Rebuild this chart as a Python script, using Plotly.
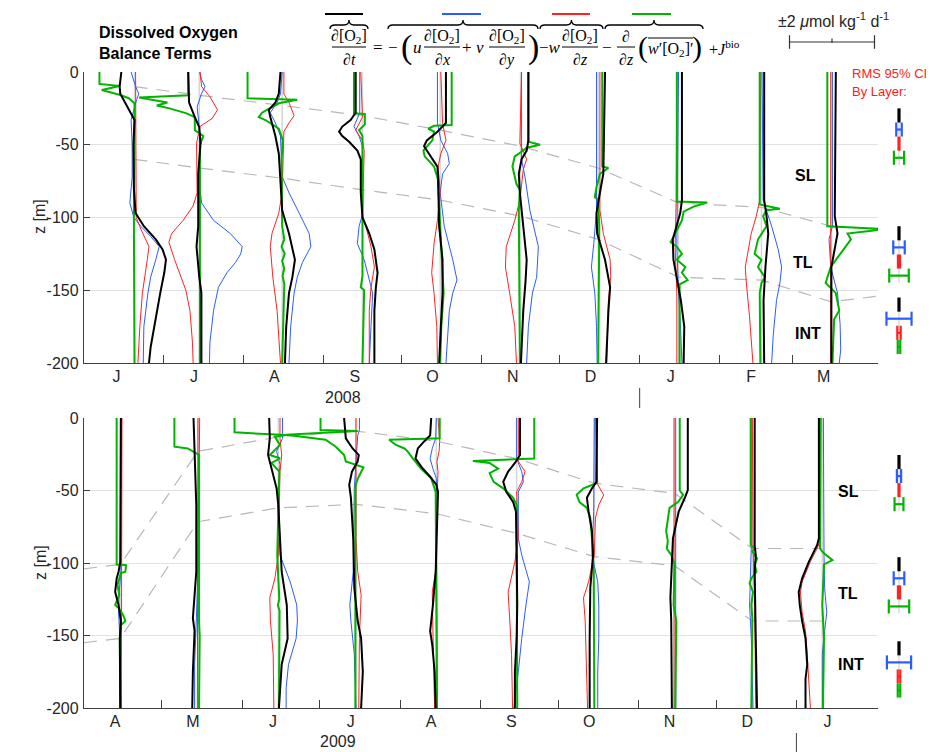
import datetime as dt
import plotly.graph_objects as go

# ------------------------------------------------------------------ data
START_2008 = "2008-06-01"
START_2009 = "2009-04-01"
YEAR_BREAK_2008 = "2009-01-01"
YEAR_BREAK_2009 = "2010-01-01"

DATES_2008 = ["2008-06-20", "2008-07-15", "2008-08-16", "2008-09-16", "2008-10-16",
              "2008-11-16", "2008-12-16", "2009-01-16", "2009-02-17", "2009-03-16"]
DATES_2009 = ["2009-04-15", "2009-05-15", "2009-06-15", "2009-07-15", "2009-08-15",
              "2009-09-15", "2009-10-15", "2009-11-15", "2009-12-15", "2010-01-11"]

MONTHS_2008 = ["2008-06-01", "2008-07-01", "2008-08-01", "2008-09-01", "2008-10-01",
               "2008-11-01", "2008-12-01", "2009-01-01", "2009-02-01", "2009-03-01"]
LABELS_2008 = ["J", "J", "A", "S", "O", "N", "D", "J", "F", "M"]
MONTHS_2009 = ["2009-04-01", "2009-05-01", "2009-06-01", "2009-07-01", "2009-08-01",
               "2009-09-01", "2009-10-01", "2009-11-01", "2009-12-01", "2010-01-01"]
LABELS_2009 = ["A", "M", "J", "J", "A", "S", "O", "N", "D", "J"]

# profiles: (depth m, rate umol/kg/d); k=d[O2]/dt, b=horiz. adv., r=vert. adv., g=vert. mixing
JUN08 = dict(
    k=[(0, -0.62), (10, -0.70), (15, -0.67), (26, -0.27), (33, 0.0), (50, -0.05), (80, -0.03), (97, 0.05), (106, 0.44), (115, 1.0), (122, 1.32), (129, 1.48), (138, 1.40), (152, 1.21), (170, 1.0), (189, 0.76), (200, 0.68)],
    b=[(0, -0.16), (10, 0.05), (15, 0.2), (19, 0.1), (33, -0.16), (50, -0.11), (72, -0.11), (90, -0.22), (100, -0.03), (106, 0.29), (113, 0.76), (120, 1.16), (129, 1.0), (141, 0.76), (152, 0.63), (175, 0.44), (200, 0.41)],
    r=[(0, 0.05), (50, 0.08), (100, 0.08), (108, 0.3), (115, 0.52), (120, 0.68), (129, 0.6), (152, 0.37), (175, 0.25), (200, 0.16)],
    g=[(0, -1.65), (8.2, -1.65), (9.6, -0.7), (12.4, -1.54), (15.8, -0.67), (18, -0.27), (21.5, 0.0), (100, -0.03), (200, 0.0)],
)
JUL08 = dict(
    k=[(0, -0.52), (21, -0.48), (31, -0.21), (38, 0.0), (49, 0.06), (70, -0.05), (106, -0.05), (120, -0.13), (141, 0.0), (152, 0.1), (200, 0.1)],
    b=[(0, 0.03), (5, 0.1), (10, 0.27), (15, 0.1), (24, -0.1), (38, 0.0), (80, 0.03), (90, 0.11), (102, 0.67), (111, 1.46), (120, 2.02), (125, 1.95), (131, 1.7), (138, 1.3), (148, 0.9), (164, 0.67), (186, 0.5), (200, 0.48)],
    r=[(0, 0.03), (10, 0.11), (17, 0.5), (26, 0.86), (32, 0.6), (37.5, 0.03), (49, -0.13), (83, -0.1), (92, -0.29), (102, -0.76), (111, -1.3), (117, -1.43), (129, -1.16), (138, -0.92), (150, -0.63), (164, -0.44), (186, -0.32), (200, -0.29)],
    g=[(0, -0.52), (16, -0.52), (17.5, -2.83), (19.5, -1.95), (21, -1.5), (23, -2.0), (25, -1.4), (28.4, -0.6), (31, -0.21), (40, -0.21), (44, 0.19), (50, 0.03), (200, 0.03)],
)
AUG08 = dict(
    k=[(0, -0.08), (15, -0.16), (21, -0.32), (26, -0.63), (31, -0.56), (35, -0.48), (44, -0.32), (56, -0.16), (72, -0.08), (95, 0.0), (111, 0.32), (129, 0.6), (141, 0.48), (152, 0.32), (175, 0.19), (200, 0.13)],
    b=[(0, 0.0), (15, -0.08), (21, -0.24), (28, -0.56), (35, -0.32), (44, -0.08), (72, 0.0), (83, 0.32), (97, 0.8), (111, 1.27), (120, 1.35), (131, 0.95), (141, 0.71), (152, 0.56), (175, 0.4), (200, 0.32)],
    r=[(0, 0.08), (15, 0.08), (21, 0.32), (30, 0.56), (35, 0.32), (41, 0.08), (83, 0.0), (97, -0.16), (111, -0.48), (120, -0.56), (141, -0.44), (164, -0.24), (200, -0.08)],
    g=[(0, -1.63), (18, -1.63), (19, 0.71), (21.5, -0.16), (28, -0.95), (31, -1.1), (33, -0.79), (39, -0.16), (47, 0.03), (60, -0.03), (106, 0.0), (115, 0.1), (120, -0.03), (125, 0.12), (130, 0.0), (135, 0.1), (140, 0.02), (146, 0.1), (200, 0.0)],
)
SEP08 = dict(
    k=[(0, -0.32), (28, -0.32), (33, -0.56), (37.5, -0.95), (41, -1.1), (44, -0.95), (48, -0.63), (54, -0.24), (60, -0.08), (83, -0.08), (100, 0.0), (111, 0.32), (122, 0.56), (138, 0.71), (148, 0.63), (164, 0.56), (200, 0.56)],
    b=[(0, -0.13), (28, -0.13), (37.5, -0.4), (44, -0.16), (51, 0.0), (98, 0.0), (106, -0.16), (118, -0.24), (129, 0.08), (143, 0.32), (152, 0.48), (175, 0.4), (200, 0.32)],
    r=[(0, -0.08), (31, 0.0), (40, -0.32), (47, 0.0), (54, 0.08), (100, 0.0), (106, 0.16), (120, 0.4), (134, 0.56), (148, 0.4), (164, 0.32), (200, 0.32)],
    g=[(0, -0.4), (28.4, -0.4), (28.9, 0.11), (36, 0.11), (40, -0.16), (44, 0.0), (140, 0.0), (148, -0.08), (150, 0.08), (200, 0.0)],
)
OCT08 = dict(
    k=[(0, 0.27), (35, 0.27), (41, -0.13), (47, -0.63), (51, -0.76), (58, -0.44), (65, -0.13), (72, -0.1), (106, -0.05), (129, 0.11), (152, 0.11), (175, 0.03), (200, -0.05)],
    b=[(0, -0.13), (35, -0.13), (47, 0.03), (56, 0.35), (63, 0.43), (70, 0.11), (83, 0.0), (106, 0.19), (129, 0.59), (143, 0.79), (152, 0.59), (164, 0.43), (200, 0.27)],
    r=[(0, 0.03), (35, 0.11), (47, 0.27), (56, 0.03), (65, -0.1), (83, 0.0), (102, -0.13), (118, -0.29), (138, -0.4), (152, -0.29), (175, -0.16), (200, -0.13)],
    g=[(0, 0.54), (36.4, 0.54), (37, -0.29), (39, -0.56), (41, -0.29), (47, -0.37), (54, -0.79), (58, -0.73), (65, -0.29), (74, -0.1), (106, 0.0), (140, 0.1), (152, 0.16), (175, 0.05), (200, 0.0)],
)
NOV08 = dict(
    k=[(0, 0.37), (47, 0.37), (54, 0.29), (60, 0.05), (70, -0.08), (83, -0.03), (106, 0.13), (129, 0.29), (143, 0.24), (164, 0.13), (200, 0.02)],
    b=[(0, 0.05), (60, 0.05), (72, 0.21), (95, 0.44), (120, 0.84), (141, 0.76), (152, 0.56), (175, 0.37), (200, 0.29)],
    r=[(0, 0.05), (49, -0.03), (60, 0.29), (67, 0.13), (88, -0.03), (102, -0.27), (120, -0.67), (134, -0.71), (152, -0.51), (175, -0.27), (200, -0.19)],
    g=[(0, 0.37), (48, 0.37), (50, 0.92), (52, 0.29), (54, 0.13), (58, -0.27), (65, -0.38), (77, -0.19), (81, -0.03), (95, -0.08), (200, -0.03)],
)
DEC08 = dict(
    k=[(0, 0.32), (70, 0.24), (83, 0.08), (97, -0.08), (111, -0.05), (129, 0.32), (148, 0.56), (164, 0.48), (200, 0.37)],
    b=[(0, -0.08), (95, -0.08), (118, -0.21), (134, -0.32), (152, -0.16), (175, -0.08), (200, -0.05)],
    r=[(0, 0.08), (95, 0.08), (111, 0.24), (129, 0.56), (141, 0.59), (157, 0.48), (200, 0.4)],
    g=[(0, 0.19), (65, 0.19), (66, 0.48), (70, 0.08), (79, -0.08), (86, -0.16), (88, 0.0), (106, 0.05), (200, 0.0)],
)
JAN09 = dict(
    k=[(0, 0.16), (88, 0.16), (97, 0.08), (106, -0.08), (115, -0.27), (129, -0.24), (141, -0.08), (157, 0.11), (175, 0.27), (200, 0.24)],
    b=[(0, 0.0), (88, -0.08), (120, -0.08), (152, 0.0), (170, 0.08), (200, 0.16)],
    r=[(0, -0.08), (88, -0.11), (120, -0.16), (152, -0.08), (200, -0.08)],
    g=[(0, -0.08), (89, -0.08), (89.7, 1.35), (92.5, 0.71), (96, 0.24), (102, 0.16), (111, -0.16), (117, -0.37), (120, -0.08), (125, 0.16), (129, -0.08), (134, 0.32), (138, 0.16), (143, 0.43), (146, 0.05), (200, 0.05)],
)
FEB09 = dict(
    k=[(0, 0.13), (88, 0.13), (99, 0.24), (111, 0.32), (134, 0.19), (157, 0.1), (200, 0.13)],
    b=[(0, 0.03), (88, 0.08), (106, 0.48), (122, 0.79), (134, 0.95), (145, 0.87), (157, 0.71), (180, 0.56), (200, 0.48)],
    r=[(0, -0.03), (88, -0.08), (99, -0.24), (111, -0.48), (134, -0.76), (145, -0.71), (168, -0.56), (200, -0.4)],
    g=[(0, -0.08), (91, -0.08), (94, 0.87), (95, 0.24), (99, 0.08), (106, 0.24), (115, -0.16), (125, -0.32), (129, 0.0), (134, -0.16), (141, 0.16), (145, 0.0), (152, -0.08), (200, -0.05)],
)
MAR09 = dict(
    k=[(0, 0.21), (99, 0.16), (111, 0.29), (125, 0.13), (134, 0.0), (200, 0.0)],
    b=[(0, 0.05), (106, 0.05), (115, -0.11), (134, -0.03), (152, 0.29), (173, 0.41), (191, 0.44), (200, 0.37)],
    r=[(0, -0.03), (200, -0.03)],
    g=[(0, -0.19), (106, -0.19), (108, 2.5), (111, 0.76), (115, 0.92), (125, 0.44), (134, -0.03), (145, -0.27), (152, 0.21), (164, 0.37), (170, 0.13), (200, 0.05)],
)

APR09 = dict(
    k=[(0, 0.03), (83, 0.03), (99, 0.0), (106, -0.08), (110.6, -0.17), (120, -0.24), (129, -0.08), (140, 0.03), (152, -0.02), (200, 0.0)],
    b=[(0, 0.03), (106, 0.03), (120, -0.05), (133, -0.08), (152, -0.02), (200, 0.05)],
    r=[(0, 0.08), (200, 0.05)],
    g=[(0, -0.17), (101, -0.17), (101.5, 0.27), (106, 0.24), (107, 0.03), (115, -0.13), (122, -0.05), (129, -0.24), (131, -0.08), (136, 0.14), (140, 0.24), (143, 0.03), (152, -0.02), (200, 0.0)],
)
MAY09 = dict(
    k=[(0, -0.21), (25.5, -0.16), (60, -0.08), (106, -0.08), (138, -0.24), (147, -0.16), (175, -0.24), (200, -0.27)],
    b=[(0, 0.08), (106, 0.0), (152, -0.11), (170, -0.16), (200, -0.16)],
    r=[(0, 0.0), (200, -0.03)],
    g=[(0, -1.11), (19.8, -1.11), (21, -0.48), (24.4, -0.08), (25.5, 0.05), (140, 0.05), (150, 0.08), (200, 0.05)],
)
JUN09 = dict(
    k=[(0, -0.43), (14, -0.4), (25.5, -0.48), (35, -0.32), (48.5, -0.08), (60, 0.0), (106, 0.16), (129, 0.4), (152, 0.44), (170, 0.16), (200, 0.03)],
    b=[(0, 0.2), (14, 0.2), (23, -0.08), (32, 0.08), (48.5, 0.0), (94.5, 0.08), (113, 0.56), (129, 0.87), (140, 0.9), (152, 0.84), (170, 0.48), (186, 0.37), (200, 0.37)],
    r=[(0, 0.08), (14, 0.08), (25.5, 0.16), (37, 0.08), (94.5, 0.0), (110.6, -0.16), (124, -0.4), (140, -0.37), (163, -0.24), (200, -0.21)],
    g=[(0, -2.06), (9.9, -2.06), (11.8, 0.37), (13, -0.16), (18.6, 0.08), (25.5, -0.4), (27.8, 0.08), (31, -0.32), (37, 0.05), (60, 0.0), (94.5, -0.05), (125, 0.05), (129, -0.02), (133, 0.06), (200, 0.03)],
)
JUL09 = dict(
    k=[(0, -0.56), (9, -0.51), (14, -0.48), (21, -0.16), (25.5, 0.13), (30, 0.08), (37, -0.19), (46, -0.32), (55, -0.24), (83, -0.13), (117, -0.08), (140, 0.08), (152, 0.24), (175, 0.32), (200, 0.24)],
    b=[(0, 0.16), (8.3, 0.16), (12, 0.08), (25.5, 0.03), (48.5, -0.08), (106, -0.13), (129, -0.29), (140, -0.24), (163, -0.08), (200, 0.0)],
    r=[(0, 0.0), (83, 0.0), (106, 0.08), (122, 0.24), (152, 0.16), (200, 0.13)],
    g=[(0, -1.67), (8.3, -1.67), (9, 0.08), (11.5, -3.3), (15, -1.43), (19.8, -0.95), (25.5, -0.56), (30, -0.48), (34, 0.35), (42, 0.08), (47, -0.03), (200, -0.03)],
)
AUG09 = dict(
    k=[(0, -0.24), (12, -0.29), (16, -0.56), (21, -0.87), (28, -0.98), (35, -0.63), (40, -0.32), (46, 0.0), (51, 0.08), (83, 0.0), (106, -0.03), (129, -0.16), (147, -0.29), (156.5, -0.19), (175, -0.08), (200, -0.03)],
    b=[(0, 0.0), (14, -0.03), (21, -0.19), (28, -0.29), (35, -0.16), (41.6, 0.0), (200, 0.05)],
    r=[(0, 0.08), (16, 0.16), (23, 0.13), (30, 0.03), (37, 0.08), (57, 0.03), (106, -0.03), (120, -0.19), (147, -0.16), (175, -0.11), (200, -0.08)],
    g=[(0, 0.16), (14, 0.16), (15, -2.22), (18.6, -1.9), (21, -1.5), (23, -1.35), (28, -1.1), (35, -0.71), (41.6, -0.24), (51, -0.03), (200, 0.03)],
)
SEP09 = dict(
    k=[(0, 0.16), (25.5, 0.16), (31, -0.08), (37, -0.4), (44, -0.63), (51, -0.48), (58, -0.16), (64.6, -0.03), (94.5, 0.0), (129, 0.03), (152, 0.0), (175, -0.08), (200, -0.08)],
    b=[(0, 0.0), (28, 0.0), (37, 0.24), (44, 0.32), (51, 0.08), (83, 0.08), (94.5, 0.24), (113, 0.6), (129, 0.44), (152, 0.24), (175, 0.08), (200, -0.13)],
    r=[(0, 0.08), (30, 0.08), (37, 0.4), (44, 0.24), (51, 0.0), (83, 0.08), (99, -0.08), (120, -0.4), (140, -0.32), (163, -0.24), (200, -0.19)],
    g=[(0, 0.83), (28, 0.83), (29.6, -2.06), (31, -1.27), (35, -0.87), (38, -1.27), (44, -1.08), (48.5, -0.63), (55, -0.16), (60, 0.0), (200, 0.03)],
)
OCT09 = dict(
    k=[(0, 0.13), (44, 0.1), (48.5, -0.11), (55, -0.35), (64.6, -0.27), (78, -0.11), (94.5, -0.06), (117, -0.19), (152, -0.22), (200, -0.22)],
    b=[(0, 0.0), (44, 0.0), (64.6, -0.03), (94.5, -0.11), (113, 0.16), (129, 0.21), (152, 0.21), (175, 0.16), (200, 0.16)],
    r=[(0, 0.05), (46, 0.16), (53, 0.44), (60, 0.21), (69, 0.05), (94.5, 0.0), (113, -0.27), (124, -0.51), (140, -0.43), (163, -0.38), (200, -0.32)],
    g=[(0, 0.1), (45, 0.1), (48.5, -0.51), (53, -0.83), (58, -0.7), (62, -0.35), (69, -0.19), (83, -0.11), (106, -0.03), (200, 0.0)],
)
NOV09 = dict(
    k=[(0, 0.62), (49.7, 0.62), (55, 0.48), (64.6, 0.19), (83, -0.08), (106, -0.16), (124, -0.2), (140, -0.16), (200, -0.13)],
    b=[(0, 0.05), (200, 0.05)],
    r=[(0, -0.03), (200, -0.03)],
    g=[(0, 0.24), (50, 0.24), (53, 0.4), (58, 0.16), (62, -0.24), (71.5, -0.32), (78, -0.4), (85, -0.32), (90, -0.37), (94.5, -0.16), (101, 0.0), (129, -0.05), (140, 0.08), (200, 0.03)],
)
DEC09 = dict(
    k=[(0, 0.11), (87.6, 0.11), (94.5, 0.16), (106, 0.11), (152, 0.16), (200, 0.22)],
    b=[(0, -0.05), (87.6, -0.05), (129, -0.13), (152, -0.05), (200, 0.03)],
    r=[(0, 0.0), (87.6, 0.03), (129, 0.11), (175, 0.16), (200, 0.16)],
    g=[(0, -0.08), (87.6, -0.08), (90, 0.11), (92, 0.0), (97, 0.22), (101, 0.11), (106, 0.19), (110.6, -0.05), (114, -0.13), (120, 0.03), (129, -0.05), (138, 0.0), (200, -0.05)],
)
JAN10 = dict(
    k=[(0, -0.16), (83, -0.16), (87.6, -0.24), (92, -0.4), (99, -0.63), (110.6, -0.95), (120, -1.11), (129, -1.06), (140, -0.95), (152, -0.79), (170, -0.71), (180, -0.79), (200, -0.79)],
    b=[(0, 0.05), (90, 0.05), (95, 0.08), (117.5, 0.11), (134, 0.21), (147, 0.11), (163, 0.0), (200, 0.0)],
    r=[(0, -0.05), (83, -0.08), (90, -0.24), (99, -0.56), (113, -0.95), (120, -1.03), (134, -0.95), (147, -0.79), (163, -0.71), (180, -0.63), (200, -0.56)],
    g=[(0, -0.11), (90, -0.11), (93, 0.05), (98, 0.48), (101, 0.08), (110.6, 0.05), (129, 0.0), (152, 0.08), (200, 0.03)],
)

PROFILES_2008 = [JUN08, JUL08, AUG08, SEP08, OCT08, NOV08, DEC08, JAN09, FEB09, MAR09]
PROFILES_2009 = [APR09, MAY09, JUN09, JUL09, AUG09, SEP09, OCT09, NOV09, DEC09, JAN10]

# layer boundary depths (m) at each profile, plus value at the open panel edge
SL_BASE_2008 = [10, 16, 23, 30, 40, 51, 66, 90, 93, 106]
TL_BASE_2008 = [60, 66, 73, 81, 88, 99, 115, 141, 143, 158]
EDGE_2008 = [108, 154]          # right edge
SL_BASE_2009 = [101, 23, 13, 9, 16, 28, 45, 52, 90, 90]
TL_BASE_2009 = [152, 71.5, 62, 59.5, 66, 79.5, 95.6, 102, 140, 140]
EDGE_2009 = [104, 155]          # left edge

# RMS 95% CI half-widths by layer, order: dO2/dt, horiz adv, vert adv, mixing
LAYERS = ["SL", "TL", "INT"]
CI_2008 = [[0.0, 0.13, 0.0, 0.24], [0.0, 0.27, 0.05, 0.46], [0.0, 0.59, 0.08, 0.06]]
CI_2009 = [[0.0, 0.10, 0.0, 0.21], [0.0, 0.25, 0.05, 0.48], [0.0, 0.57, 0.06, 0.06]]
SCALE_BAR = 2.0

# ------------------------------------------------------------------ style
# page is 938x752; the html body adds an 8 px margin, so the figure is 930x744
PAGE_OFF = 8
W, H = 938 - PAGE_OFF, 752 - PAGE_OFF
COL = dict(k="#000000", b="#2b5cff", r="#ff2222", g="#00b400")
LW = dict(k=2.0, b=1.0, r=1.0, g=2.0)
ORDER = ["b", "r", "g", "k"]
SANS = "Liberation Sans, Arial, Helvetica, sans-serif"
SERIF = "Liberation Serif, DejaVu Serif, serif"
PX_PER_DAY = 794 / 306.5
DAYS_PER_UNIT = 21.25 / PX_PER_DAY
GRID = "#e2e2e2"
AXC = "#404040"


def days(d, start):
    return (dt.date.fromisoformat(d) - dt.date.fromisoformat(start)).days


def px2paper(px, py):
    """page pixel -> paper fraction"""
    return (px - PAGE_OFF) / W, 1 - (py - PAGE_OFF) / H


def pxdom(a, b):
    return [(a - PAGE_OFF) / W, (b - PAGE_OFF) / W]


def pydom(top, bottom):
    return [1 - (bottom - PAGE_OFF) / H, 1 - (top - PAGE_OFF) / H]


fig = go.Figure()
shapes = []
annotations = []


def panel(profiles, dates, start, sl, tl, edge, edge_side, xa, ya, xrange):
    t = [days(d, start) for d in dates]
    for ti in t:
        fig.add_trace(go.Scatter(x=[ti, ti], y=[0, -200], mode="lines",
                                 line=dict(color="#d6d6d6", width=1.5),
                                 xaxis=xa, yaxis=ya, hoverinfo="skip"))
    for bnd, e in zip([sl, tl], edge):
        xs, ys = list(t), [-v for v in bnd]
        if edge_side == "right":
            xs, ys = xs + [xrange[1]], ys + [-e]
        else:
            xs, ys = [xrange[0]] + xs, [-e] + ys
        fig.add_trace(go.Scatter(x=xs, y=ys, mode="lines",
                                 line=dict(color="#b8b8b8", width=1.2, dash="13px,9px"),
                                 xaxis=xa, yaxis=ya, hoverinfo="skip"))
    for key in ORDER:
        for ti, prof in zip(t, profiles):
            pts = prof[key]
            fig.add_trace(go.Scatter(
                x=[ti + v * DAYS_PER_UNIT for _, v in pts],
                y=[-d for d, _ in pts], mode="lines",
                line=dict(color=COL[key], width=LW[key]),
                xaxis=xa, yaxis=ya, hoverinfo="skip"))


def ci_panel(cis, anchors, xa, ya):
    seg = 9.7
    for layer_ci, a in zip(cis, anchors):
        fig.add_trace(go.Scatter(x=[0, 0], y=[-a, -(a + 4 * seg)], mode="lines",
                                 line=dict(color="#c8c8c8", width=1), xaxis=xa, yaxis=ya))
        for i, (key, w) in enumerate(zip(["k", "b", "r", "g"], layer_ci)):
            d0, d1 = a + i * seg, a + (i + 1) * seg
            dm = (d0 + d1) / 2
            if w <= 0.02:
                xs, ys = [0, 0], [-d0, -d1]
                width = 3.2
            else:
                xs = [-w, -w, None, w, w, None, -w, w]
                ys = [-d0, -d1, None, -d0, -d1, None, -dm, -dm]
                width = 2.2
            fig.add_trace(go.Scatter(x=xs, y=ys, mode="lines",
                                     line=dict(color=COL[key], width=width),
                                     xaxis=xa, yaxis=ya, hoverinfo="skip"))


X0 = [-0.5, 306.0]
X1 = [0.0, 306.5]
panel(PROFILES_2008, DATES_2008, START_2008, SL_BASE_2008, TL_BASE_2008, EDGE_2008, "right", "x", "y", X0)
panel(PROFILES_2009, DATES_2009, START_2009, SL_BASE_2009, TL_BASE_2009, EDGE_2009, "left", "x2", "y2", X1)
ci_panel(CI_2008, [25, 106, 155], "x3", "y3")
ci_panel(CI_2009, [25.5, 96, 154], "x4", "y4")

fig.add_trace(go.Scatter(
    x=[-SCALE_BAR, SCALE_BAR, None, -SCALE_BAR, -SCALE_BAR, None, SCALE_BAR, SCALE_BAR, None, 0, 0],
    y=[0, 0, None, -0.85, 0.85, None, -0.85, 0.85, None, -0.1, 0.45],
    mode="lines", line=dict(color="#333333", width=1.2), xaxis="x5", yaxis="y5", hoverinfo="skip"))

# ------------------------------------------------------------------ axes
XD = pxdom(84, 878)
YD_TOP = pydom(72, 363)
YD_BOT = pydom(418, 708)


def xaxis(start, months, labels, rng, anchor):
    mv = [days(m, start) for m in months]
    return dict(domain=XD, range=rng, anchor=anchor, showgrid=False, zeroline=False,
                automargin=False,
                showline=True, linecolor=AXC, linewidth=1.3,
                tickmode="array", tickvals=[m + 12 for m in mv], ticktext=labels,
                ticks="", tickfont=dict(family=SANS, size=16, color="#262626"),
                ticklabelstandoff=-1,
                minor=dict(tickmode="array", tickvals=mv[1:], ticks="inside",
                           ticklen=8, tickcolor=AXC, tickwidth=1, showgrid=False))


def yaxis(dom, anchor):
    return dict(domain=dom, range=[-200, 0], anchor=anchor, showgrid=True,
                automargin=False,
                gridcolor=GRID, gridwidth=1, zeroline=False, showline=True,
                linecolor=AXC, linewidth=1.3, tickmode="array",
                tickvals=[-200, -150, -100, -50, 0],
                ticktext=["-200", "-150", "-100", "-50", "0"],
                ticks="inside", ticklen=6, tickcolor=AXC,
                tickfont=dict(family=SANS, size=16, color="#262626"),
                ticklabelstandoff=1)


hidden = dict(visible=False, showgrid=False, zeroline=False, automargin=False)
XD_CI = pxdom(880, 918)
CI_RANGE = [-(899 - 880) / 21.25, (918 - 899) / 21.25]

fig.update_layout(
    template="none",
    width=W, height=H, autosize=False, margin=dict(l=0, r=0, t=0, b=0, pad=0),
    paper_bgcolor="white", plot_bgcolor="white", showlegend=False,
    xaxis=xaxis(START_2008, MONTHS_2008, LABELS_2008, X0, "y"),
    yaxis=yaxis(YD_TOP, "x"),
    xaxis2=xaxis(START_2009, MONTHS_2009, LABELS_2009, X1, "y2"),
    yaxis2=yaxis(YD_BOT, "x2"),
    xaxis3=dict(domain=XD_CI, range=CI_RANGE, anchor="y3", **hidden),
    yaxis3=dict(domain=YD_TOP, range=[-200, 0], anchor="x3", **hidden),
    xaxis4=dict(domain=XD_CI, range=CI_RANGE, anchor="y4", **hidden),
    yaxis4=dict(domain=YD_BOT, range=[-200, 0], anchor="x4", **hidden),
    xaxis5=dict(domain=pxdom(785, 880), range=[-(832 - 785) / 21.25, (880 - 832) / 21.25], anchor="y5", **hidden),
    yaxis5=dict(domain=pydom(34, 50), range=[-1, 1], anchor="x5", **hidden),
)

# ------------------------------------------------------------------ text
def txt(px, py, s, size=15, family=SERIF, color="black", xanchor="center", angle=0):
    x, y = px2paper(px, py)
    annotations.append(dict(x=x, y=y, xref="paper", yref="paper", text=s, showarrow=False,
                            xanchor=xanchor, yanchor="middle", textangle=angle,
                            font=dict(family=family, size=size, color=color)))


def hline(px0, px1, py, color="black", width=1.0):
    x0, y0 = px2paper(px0, py)
    x1, _ = px2paper(px1, py)
    shapes.append(dict(type="line", xref="paper", yref="paper", x0=x0, x1=x1, y0=y0, y1=y0,
                       line=dict(color=color, width=width)))


def brace(px0, px1, y_end=29, y_flat=25, y_peak=20):
    r = 5
    xm = (px0 + px1) / 2
    P = lambda a, b: "%.5f,%.5f" % px2paper(a, b)
    path = ("M " + P(px0, y_end) + " Q " + P(px0, y_flat) + " " + P(px0 + r, y_flat) +
            " L " + P(xm - r, y_flat) + " Q " + P(xm, y_flat) + " " + P(xm, y_peak) +
            " Q " + P(xm, y_flat) + " " + P(xm + r, y_flat) +
            " L " + P(px1 - r, y_flat) + " Q " + P(px1, y_flat) + " " + P(px1, y_end))
    shapes.append(dict(type="path", xref="paper", yref="paper", path=path,
                       line=dict(color="black", width=1.3)))


txt(97, 33, "<b>Dissolved Oxygen</b>", size=16, family=SANS, xanchor="left")
txt(97, 54, "<b>Balance Terms</b>", size=16, family=SANS, xanchor="left")

NUM = "∂[O<sub>2</sub>]"
EQ_Y, NUM_Y, DEN_Y = 48, 37, 60
for cx, half, den in [(349, 17, "∂<i>t</i>"), (442, 18, "∂<i>x</i>"), (507, 18, "∂<i>y</i>"), (580, 18, "∂<i>z</i>")]:
    txt(cx, NUM_Y, NUM, size=16)
    hline(cx - half, cx + half, 47)
    txt(cx, DEN_Y, den, size=16)
txt(626, NUM_Y, "∂", size=16)
hline(617, 635, 47)
txt(626, DEN_Y, "∂<i>z</i>", size=16)
txt(378, EQ_Y, "=", size=17)
txt(393, EQ_Y, "−", size=17)
txt(406, EQ_Y - 1, "(", size=34)
txt(417, EQ_Y, "<i>u</i>", size=17)
txt(467, EQ_Y, "+", size=17)
txt(480, EQ_Y, "<i>v</i>", size=17)
txt(533, EQ_Y - 1, ")", size=34)
txt(550, EQ_Y, "−<i>w</i>", size=17)
txt(607, EQ_Y, "−", size=17)
txt(643, EQ_Y - 1, "(", size=30)
txt(670, EQ_Y + 2, "<i>w</i>′[O<sub>2</sub>]′", size=16)
hline(648, 693, 38)
txt(697, EQ_Y - 1, ")", size=30)
txt(724, EQ_Y, "+<i>J</i><sup>bio</sup>", size=16)
brace(330, 368)
brace(388, 538)
brace(540, 603)
brace(605, 703)
hline(325, 363, 14, COL["k"], 2)
hline(442, 481, 14, COL["b"], 2)
hline(552, 590, 14, COL["r"], 2)
hline(632, 671, 14, COL["g"], 2)

txt(833, 20, "±2 <i>μ</i>mol kg<sup>-1</sup> d<sup>-1</sup>", size=16, family=SANS, color="#262626")

txt(850, 73, "RMS 95% CI", size=13, family=SANS, color="#ff1a1a", xanchor="left")
txt(850, 91, "By Layer:", size=13, family=SANS, color="#ff1a1a", xanchor="left")

txt(40, 217, "z [m]", size=16, family=SANS, color="#262626", angle=-90)
txt(40, 563, "z [m]", size=16, family=SANS, color="#262626", angle=-90)
txt(343, 397, "2008", size=16, family=SANS, color="#262626")
txt(338, 741, "2009", size=16, family=SANS, color="#262626")

for xa, start, brk, py0, py1 in [("x", START_2008, YEAR_BREAK_2008, 388, 408),
                                 ("x2", START_2009, YEAR_BREAK_2009, 733, 752)]:
    _, y0 = px2paper(0, py0)
    _, y1 = px2paper(0, py1)
    shapes.append(dict(type="line", xref=xa, yref="paper", x0=days(brk, start), x1=days(brk, start),
                       y0=y0, y1=y1, line=dict(color=AXC, width=1)))

for xa, ya, items in [("x", "y", [(278, -71, "SL"), (277, -131, "TL"), (279, -180, "INT")]),
                      ("x2", "y2", [(295, -51, "SL"), (295, -121, "TL"), (296, -170, "INT")])]:
    for xv, yv, s in items:
        annotations.append(dict(x=xv, y=yv, xref=xa, yref=ya, text="<b>%s</b>" % s, showarrow=False,
                                xanchor="center", yanchor="middle",
                                font=dict(family=SANS, size=16, color="black")))

fig.update_layout(shapes=shapes, annotations=annotations)
fig.write_html("out.html")
